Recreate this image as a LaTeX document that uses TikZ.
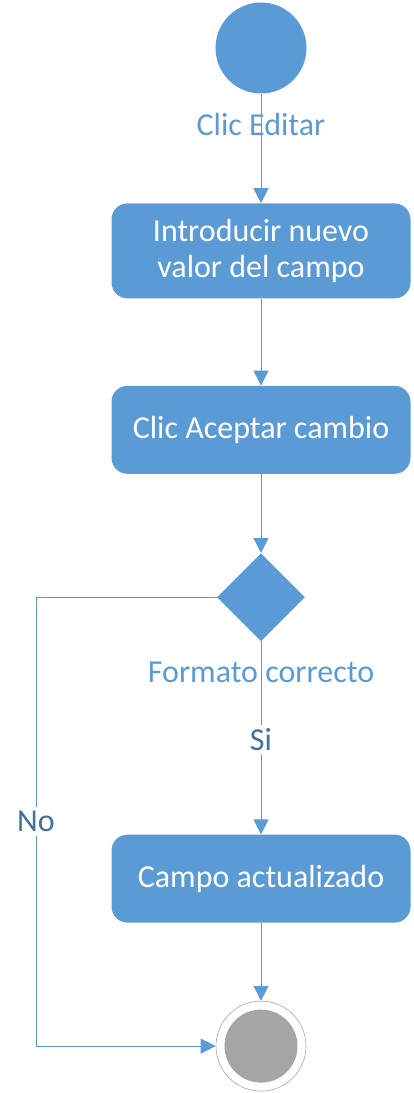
\documentclass[tikz,border=0pt]{standalone}
\usepackage{fontspec}
\setmainfont{Carlito}
\usetikzlibrary{shapes.geometric, positioning, arrows.meta}
\definecolor{actblue}{HTML}{5B9BD5}
\definecolor{labelblue}{HTML}{41719C}
\definecolor{endgray}{HTML}{A5A5A5}

\begin{document}
\begin{tikzpicture}[
        every node/.style={font=\fontsize{32}{36}\selectfont},
        activity/.style={rectangle, rounded corners=16pt, fill=actblue, text=white, minimum width=299pt, minimum height=#1, align=center, inner sep=0pt},
        arrow/.style={-{Triangle[width=15pt,length=15pt]}, actblue, line width=0.9pt},
        guard/.style={text=actblue, inner sep=0pt},
        branch/.style={text=labelblue, fill=white, inner sep=4pt}
    ]
    \useasboundingbox (0pt,0pt) rectangle (413pt,-1093pt);
%
    \node[circle, fill=actblue, minimum size=91pt, inner sep=0pt] (start) at (261pt,-48pt) {};
    \node[activity=95pt, below=109.5pt of start] (input) {Introducir nuevo\\valor del campo};
    \node[activity=88pt, below=87pt of input] (accept) {Clic Aceptar cambio};
    \node[diamond, fill=actblue, minimum width=88pt, minimum height=88pt, inner sep=0pt, below=79pt of accept] (check) {};
    \node[activity=88pt, below=193pt of check] (updated) {Campo actualizado};
    \node[circle, draw=endgray, line width=0.6pt, minimum size=90pt, inner sep=0pt, below=78pt of updated] (fin) {};
    \node[circle, fill=endgray, minimum size=73pt, inner sep=0pt] (fininner) at (fin) {};
    \coordinate (nocorner) at (36pt,0pt);
%
    \draw[arrow] (start) -- node[guard, pos=0.28] {Clic Editar} (input);
    \draw[arrow] (input) -- (accept);
    \draw[arrow] (accept) -- (check);
    \draw[arrow] (check) -- node[guard, pos=0.16] {Formato correcto}
        node[branch, pos=0.51] {Si} (updated);
    \draw[arrow] (updated) -- (fin);
%
    % rama No hacia el final
    \draw[arrow] (check.west) -- (check.west -| nocorner)
        -- node[branch] {No} (nocorner |- fin.west) -- (fin.west);
%
\end{tikzpicture}
\end{document}
